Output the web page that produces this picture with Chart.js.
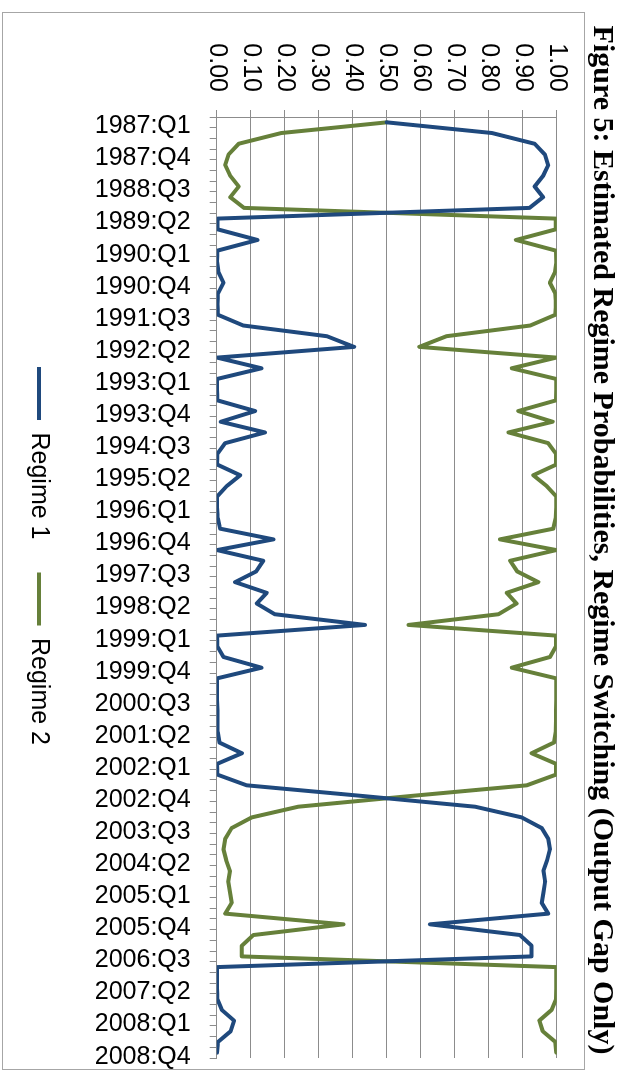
<!DOCTYPE html>
<html><head><meta charset="utf-8">
<script src="https://cdn.jsdelivr.net/npm/chart.js@4/dist/chart.umd.min.js"></script>
<style>
html,body{margin:0;padding:0;background:#fff;overflow:hidden;width:624px;height:1074px;}
#wrap{position:absolute;left:624px;top:0;width:1074px;height:624px;transform-origin:0 0;transform:rotate(90deg);background:#fff;}
canvas{display:block;}
</style></head><body>
<div id="wrap"><canvas id="c" width="1074" height="624"></canvas></div>
<script>
const categories = [
 "1987:Q1","1987:Q2","1987:Q3","1987:Q4","1988:Q1","1988:Q2","1988:Q3","1988:Q4",
 "1989:Q1","1989:Q2","1989:Q3","1989:Q4","1990:Q1","1990:Q2","1990:Q3","1990:Q4",
 "1991:Q1","1991:Q2","1991:Q3","1991:Q4","1992:Q1","1992:Q2","1992:Q3","1992:Q4",
 "1993:Q1","1993:Q2","1993:Q3","1993:Q4","1994:Q1","1994:Q2","1994:Q3","1994:Q4",
 "1995:Q1","1995:Q2","1995:Q3","1995:Q4","1996:Q1","1996:Q2","1996:Q3","1996:Q4",
 "1997:Q1","1997:Q2","1997:Q3","1997:Q4","1998:Q1","1998:Q2","1998:Q3","1998:Q4",
 "1999:Q1","1999:Q2","1999:Q3","1999:Q4","2000:Q1","2000:Q2","2000:Q3","2000:Q4",
 "2001:Q1","2001:Q2","2001:Q3","2001:Q4","2002:Q1","2002:Q2","2002:Q3","2002:Q4",
 "2003:Q1","2003:Q2","2003:Q3","2003:Q4","2004:Q1","2004:Q2","2004:Q3","2004:Q4",
 "2005:Q1","2005:Q2","2005:Q3","2005:Q4","2006:Q1","2006:Q2","2006:Q3","2006:Q4",
 "2007:Q1","2007:Q2","2007:Q3","2007:Q4","2008:Q1","2008:Q2","2008:Q3","2008:Q4"
];
const regime1 = [
 0.500,0.810,0.935,0.965,0.975,0.960,0.935,0.960,0.920,0.003,
 0.002,0.120,0.002,0.001,0.005,0.020,0.004,0.002,0.004,0.078,
 0.324,0.404,0.001,0.132,0.001,0.001,0.002,0.113,0.012,0.142,
 0.025,0.002,0.001,0.069,0.030,0.001,0.001,0.003,0.010,0.167,
 0.001,0.137,0.116,0.054,0.147,0.118,0.171,0.436,0.001,0.002,
 0.020,0.132,0.001,0.001,0.001,0.002,0.002,0.003,0.008,0.074,
 0.001,0.002,0.088,0.430,0.760,0.897,0.956,0.975,0.980,0.972,
 0.961,0.966,0.961,0.956,0.975,0.627,0.892,0.926,0.926,0.001,
 0.001,0.001,0.002,0.015,0.051,0.041,0.004,0.001
];
const regime2 = [
 0.500,0.190,0.065,0.035,0.025,0.040,0.065,0.040,0.080,0.997,
 0.998,0.880,0.998,0.999,0.995,0.980,0.996,0.998,0.996,0.922,
 0.676,0.596,0.999,0.868,0.999,0.999,0.998,0.887,0.988,0.858,
 0.975,0.998,0.999,0.931,0.970,0.999,0.999,0.997,0.990,0.833,
 0.999,0.863,0.884,0.946,0.853,0.882,0.829,0.564,0.999,0.998,
 0.980,0.868,0.999,0.999,0.999,0.998,0.998,0.997,0.992,0.926,
 0.999,0.998,0.912,0.570,0.240,0.103,0.044,0.025,0.020,0.028,
 0.039,0.034,0.039,0.044,0.025,0.373,0.108,0.074,0.074,0.999,
 0.999,0.999,0.998,0.985,0.949,0.959,0.996,0.999
];
const seriesNames = ["Regime 1", "Regime 2"];
const titleText = "Figure 5: Estimated Regime Probabilities, Regime Switching (Output Gap Only)";

const BLUE = "#1F497D";
const GREEN = "#66803A";
const AXIS = "#8C8C8C";
const SANS = "'Liberation Sans', Arial, sans-serif";

const frame = {
  id: "frame",
  beforeDraw(chart) {
    const c = chart.ctx;
    c.save();
    c.fillStyle = "#fff";
    c.fillRect(0, 0, chart.width, chart.height);
    c.strokeStyle = "#A6A6A6";
    c.lineWidth = 1;
    c.strokeRect(12.5, 39.5, 1057, 582);
    c.restore();
  },
  afterLayout(chart) {
    if (chart.titleBlock) { chart.titleBlock.left = 22; }
    if (chart.legend) { chart.legend.left = 54; }
  }
};

new Chart(document.getElementById("c"), {
  type: "line",
  data: {
    labels: categories,
    datasets: [
      { label: seriesNames[0], data: regime1, borderColor: BLUE, backgroundColor: BLUE,
        borderWidth: 4, pointRadius: 0, tension: 0, borderCapStyle: "round", borderJoinStyle: "round" },
      { label: seriesNames[1], data: regime2, borderColor: GREEN, backgroundColor: GREEN,
        borderWidth: 4, pointRadius: 0, tension: 0, borderCapStyle: "round", borderJoinStyle: "round" }
    ]
  },
  options: {
    responsive: false,
    animation: false,
    devicePixelRatio: 1,
    events: [],
    layout: { padding: { left: 12, right: 16, top: 0, bottom: 16.5 } },
    plugins: {
      title: {
        display: true, text: titleText, color: "#000",
        font: { family: "'Liberation Serif', 'Times New Roman', serif", size: 30, weight: "bold", lineHeight: 1.2 },
        padding: { top: 4, bottom: 27.3 }
      },
      legend: {
        position: "bottom",
        labels: {
          usePointStyle: true, pointStyle: "line", pointStyleWidth: 53,
          padding: 33, color: "#000", font: { family: SANS, size: 25 }
        }
      },
      tooltip: { enabled: false }
    },
    scales: {
      x: {
        type: "category",
        offset: true,
        grid: { offset: true, drawOnChartArea: false, drawTicks: true, tickLength: 7, color: AXIS },
        border: { color: AXIS, width: 1 },
        ticks: {
          autoSkip: false, minRotation: 90, maxRotation: 90, padding: 19, labelOffset: 4,
          color: "#000", font: { family: SANS, size: 25 },
          callback: function (v, i) { return i % 3 === 0 ? this.getLabelForValue(v) : ""; }
        },
        afterFit: (s) => { s.height = 132.2; s.paddingLeft = 0; s.paddingRight = 0; }
      },
      y: {
        min: 0, max: 1,
        grid: { color: AXIS, tickLength: 7 },
        border: { color: AXIS, width: 1 },
        ticks: {
          stepSize: 0.1, padding: 18, color: "#000", font: { family: SANS, size: 25 },
          callback: (v) => Number(v).toFixed(2)
        },
        afterFit: (s) => { s.width = 105; s.paddingTop = 0; s.paddingBottom = 0; }
      }
    }
  },
  plugins: [frame]
});
</script>
</body></html>
